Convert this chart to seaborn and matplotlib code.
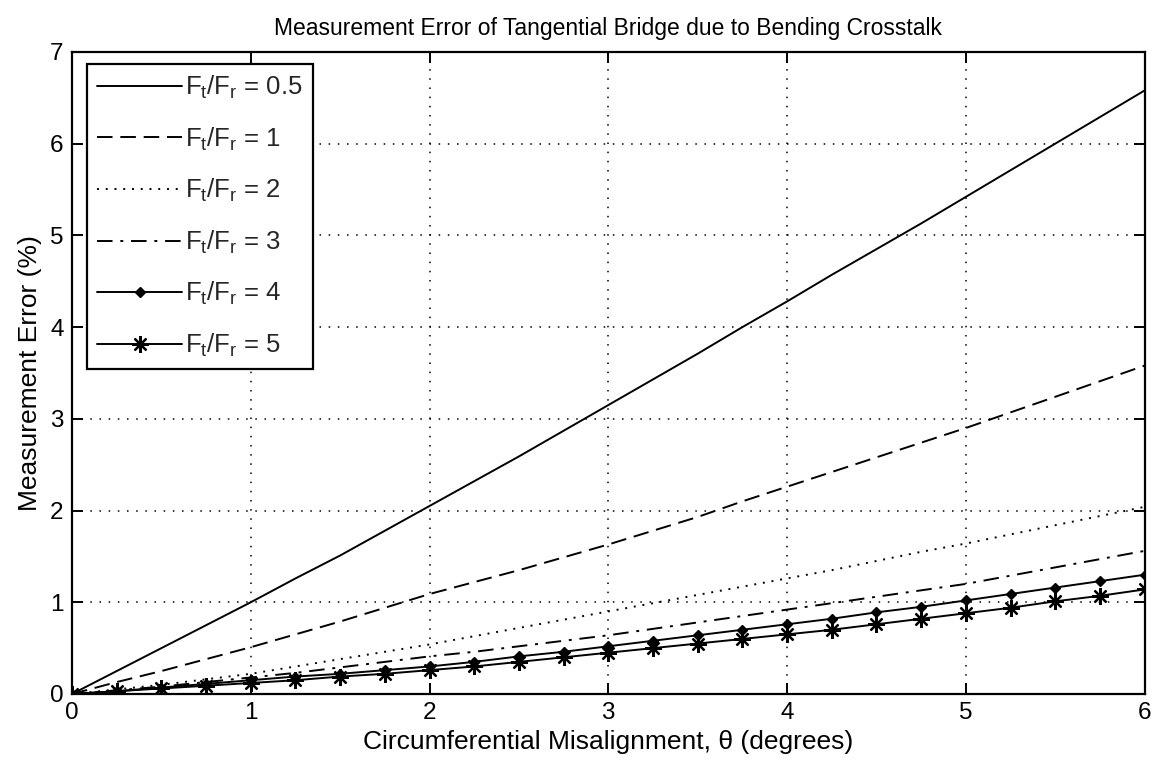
import numpy as np
import pandas as pd
import matplotlib
matplotlib.use("Agg")
import matplotlib.pyplot as plt
import seaborn as sns

# ---- data ----
theta = [0.00, 0.25, 0.50, 0.75, 1.00, 1.25, 1.50, 1.75, 2.00, 2.25, 2.50, 2.75,
         3.00, 3.25, 3.50, 3.75, 4.00, 4.25, 4.50, 4.75, 5.00, 5.25, 5.50, 5.75, 6.00]

err_r05 = [0.00, 0.25, 0.50, 0.75, 1.00, 1.26, 1.51, 1.78, 2.05, 2.32, 2.59, 2.87,
           3.15, 3.43, 3.71, 4.00, 4.28, 4.57, 4.85, 5.13, 5.42, 5.71, 6.00, 6.29, 6.58]
err_r1 = [0.00, 0.13, 0.25, 0.38, 0.51, 0.65, 0.79, 0.94, 1.09, 1.22, 1.35, 1.49,
          1.63, 1.78, 1.93, 2.10, 2.26, 2.42, 2.58, 2.74, 2.90, 3.07, 3.24, 3.41, 3.58]
err_r2 = [0.00, 0.05, 0.10, 0.16, 0.22, 0.30, 0.38, 0.46, 0.54, 0.63, 0.72, 0.81,
          0.90, 0.99, 1.08, 1.17, 1.26, 1.35, 1.45, 1.55, 1.64, 1.74, 1.84, 1.94, 2.04]
err_r3 = [0.00, 0.04, 0.08, 0.13, 0.18, 0.23, 0.29, 0.35, 0.41, 0.46, 0.52, 0.58,
          0.64, 0.71, 0.78, 0.85, 0.92, 0.99, 1.06, 1.13, 1.20, 1.29, 1.38, 1.47, 1.56]
err_r4 = [0.00, 0.03, 0.07, 0.11, 0.15, 0.19, 0.22, 0.26, 0.30, 0.35, 0.41, 0.46,
          0.52, 0.58, 0.64, 0.70, 0.76, 0.82, 0.89, 0.95, 1.02, 1.09, 1.16, 1.23, 1.30]
err_r5 = [0.00, 0.03, 0.06, 0.09, 0.12, 0.15, 0.19, 0.22, 0.26, 0.30, 0.35, 0.40,
          0.45, 0.50, 0.55, 0.60, 0.65, 0.70, 0.76, 0.82, 0.88, 0.94, 1.01, 1.07, 1.14]

ratio_labels = ["0.5", "1", "2", "3", "4", "5"]
series = [err_r05, err_r1, err_r2, err_r3, err_r4, err_r5]

x_ticks = [0, 1, 2, 3, 4, 5, 6]
y_ticks = [0, 1, 2, 3, 4, 5, 6, 7]

title = "Measurement Error of Tangential Bridge due to Bending Crosstalk"
xlabel = "Circumferential Misalignment, \u03b8 (degrees)"
ylabel = "Measurement Error (%)"

# ---- styling ----
sns.set_theme(style="ticks")
plt.rcParams["font.family"] = ["Liberation Sans", "DejaVu Sans"]
plt.rcParams["mathtext.fontset"] = "custom"
plt.rcParams["mathtext.rm"] = "Liberation Sans"
plt.rcParams["mathtext.it"] = "Liberation Sans"
plt.rcParams["axes.linewidth"] = 1.6
plt.rcParams["xtick.direction"] = "in"
plt.rcParams["ytick.direction"] = "in"

fig = plt.figure(figsize=(11.62, 7.71), dpi=100)
ax = fig.add_axes([0.062, 0.0999, 0.923, 0.8327])

styles = [
    dict(ls="-", marker="None", ms=0, mew=0),
    dict(ls=(0, (8, 4)), marker="None", ms=0, mew=0),
    dict(ls=(0, (1, 3.5)), marker="None", ms=0, mew=0),
    dict(ls=(0, (8, 4, 1.5, 4)), marker="None", ms=0, mew=0),
    dict(ls="-", marker="D", ms=5, mew=1.0),
    dict(ls="-", marker=(8, 2, 0), ms=12, mew=1.6),
]

rows = []
for lab, vals in zip(ratio_labels, series):
    for t, v in zip(theta, vals):
        rows.append({"theta": t, "err": v, "ratio": lab})
df = pd.DataFrame(rows)

for lab, st in zip(ratio_labels, styles):
    sub = df[df["ratio"] == lab]
    n_before = len(ax.lines)
    sns.lineplot(data=sub, x="theta", y="err", ax=ax, estimator=None,
                 sort=False, color="black", linewidth=1.4,
                 label=r"F$_\mathregular{t}$/F$_\mathregular{r}$ = " + lab)
    line = ax.lines[n_before]
    line.set_linestyle(st["ls"])
    line.set_marker(st["marker"])
    line.set_markersize(st["ms"])
    line.set_markeredgewidth(st["mew"])
    line.set_markeredgecolor("black")
    line.set_markerfacecolor("black")
    line.set_color("black")

ax.set_xlim(0, 6)
ax.set_ylim(0, 7)
ax.set_xticks(x_ticks)
ax.set_yticks(y_ticks)
ax.set_xticklabels([str(v) for v in x_ticks])
ax.set_yticklabels([str(v) for v in y_ticks])
ax.tick_params(axis="both", which="both", top=True, right=True, length=8,
               width=1.4, labelsize=17.5, colors="black", pad=6)
for s in ax.spines.values():
    s.set_visible(True)
    s.set_color("black")

ax.grid(True, color="black", linestyle=(0, (1, 5)), linewidth=1.1)
ax.set_axisbelow(True)

ax.set_title(title, fontsize=16.5, pad=12, color="black")
ax.set_xlabel(xlabel, fontsize=19, labelpad=4, color="black")
ax.set_ylabel(ylabel, fontsize=19, labelpad=6, color="black")

handles, labels = ax.get_legend_handles_labels()
leg = ax.legend(handles, labels, loc="upper left", bbox_to_anchor=(0.014, 0.982),
                fontsize=18.5, frameon=True, fancybox=False, edgecolor="black",
                handlelength=3.3, handletextpad=0.1, labelspacing=0.95,
                borderpad=0.4, borderaxespad=0.0)
leg.get_frame().set_linewidth(1.6)
leg.get_frame().set_facecolor("white")
leg.get_frame().set_alpha(1.0)

fig.savefig("out.png", dpi=100, facecolor="white")
